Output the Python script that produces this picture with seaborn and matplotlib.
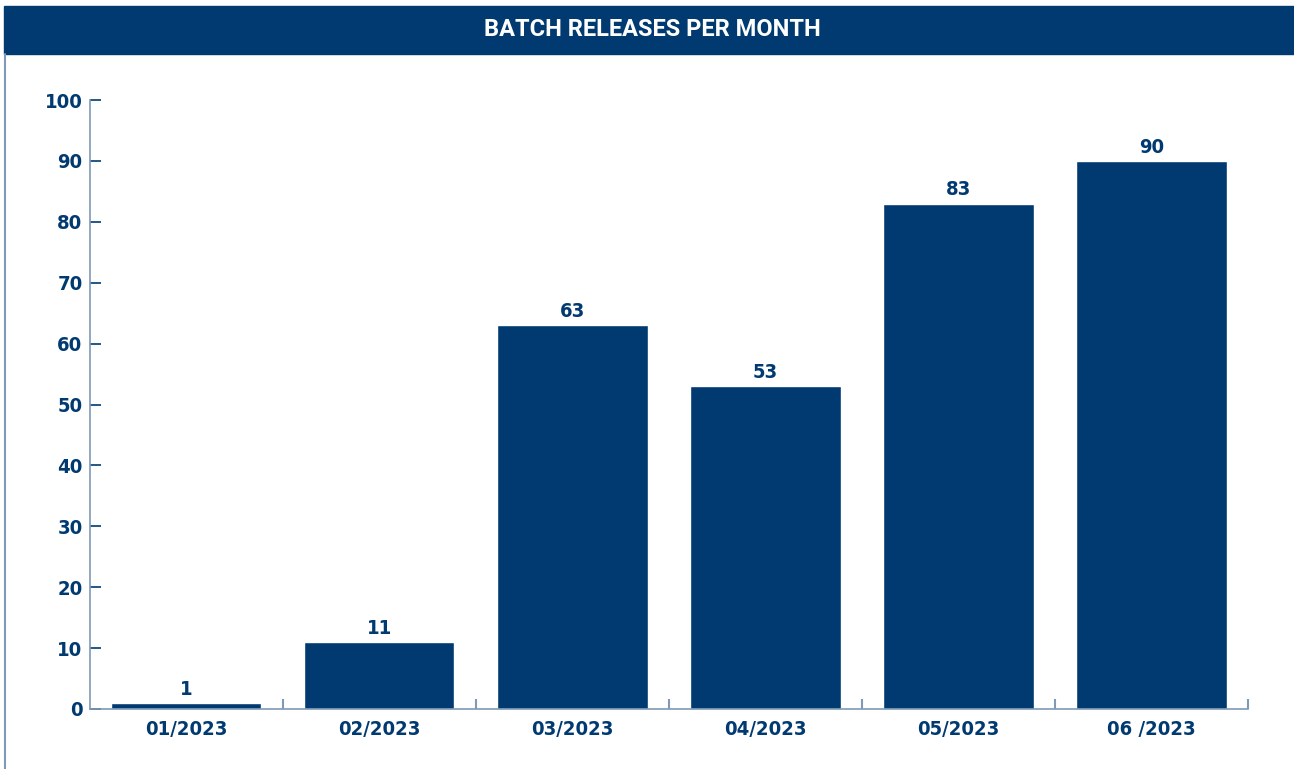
"""Batch releases per month bar chart."""

import matplotlib

matplotlib.use("Agg")

import matplotlib.pyplot as plt
import pandas as pd
import seaborn as sns
from matplotlib.lines import Line2D
from matplotlib.patches import Rectangle

months = ["01/2023", "02/2023", "03/2023", "04/2023", "05/2023", "06 /2023"]
releases = [1, 11, 63, 53, 83, 90]
y_ticks = list(range(0, 101, 10))

NAVY = "#003a70"
SPINE = "#7f9ab6"
FONT = ["DejaVu Sans"]

sns.set_theme(style="white")
plt.rcParams["font.family"] = FONT
plt.rcParams["font.stretch"] = "condensed"

df = pd.DataFrame({"month": months, "releases": releases})

fig = plt.figure(figsize=(12.94, 7.69), dpi=100)
ax = fig.add_axes([89.5 / 1294, 1 - 709 / 769, (1248 - 89.5) / 1294, 609 / 769])

sns.barplot(data=df, x="month", y="releases", color=NAVY, saturation=1, width=0.78, ax=ax)
for container in ax.containers:
    ax.bar_label(container, padding=3, color=NAVY, fontsize=14.5, fontweight="bold",
                 fontstretch="condensed")

ax.set_xlim(-0.5, len(months) - 0.5)
ax.set_ylim(0, 100)
ax.set_yticks(y_ticks)
ax.set_xlabel("")
ax.set_ylabel("")

for side in ("top", "right"):
    ax.spines[side].set_visible(False)
for side in ("left", "bottom"):
    ax.spines[side].set_color(SPINE)
    ax.spines[side].set_linewidth(1.2)

ax.tick_params(axis="y", direction="in", length=8, width=1.2, color=NAVY, pad=5,
               labelsize=14.5, labelcolor=NAVY, left=True)
ax.tick_params(axis="x", which="major", length=0, pad=8, labelsize=14.5, labelcolor=NAVY)
ax.set_xticks([i + 0.5 for i in range(len(months))], minor=True)
ax.tick_params(axis="x", which="minor", direction="in", length=7, width=1.5, color=SPINE, bottom=True)
for lab in ax.get_xticklabels() + ax.get_yticklabels():
    lab.set_fontweight("bold")
    lab.set_fontstretch("condensed")

# header bar and frame line
fig.patches.append(Rectangle((4 / 1294, 1 - 54 / 769), 1 - 4 / 1294, 48 / 769,
                             transform=fig.transFigure, color=NAVY, zorder=0))
fig.lines.append(Line2D([4.5 / 1294, 4.5 / 1294], [0, 1 - 54 / 769],
                        transform=fig.transFigure, color=SPINE, lw=1.5))
fig.text(652 / 1294, 1 - 30 / 769, "BATCH RELEASES PER MONTH", color="white",
         fontsize=17, fontweight="bold", ha="center", va="center",
         family=["Roboto", "DejaVu Sans"], fontstretch="normal")

fig.savefig("out.png", dpi=100)
